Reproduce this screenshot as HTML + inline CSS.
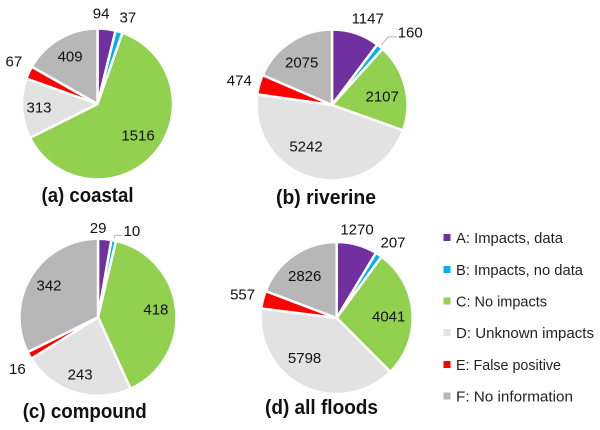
<!DOCTYPE html>
<html lang="en">
<head>
<meta charset="utf-8">
<title>Flood impact pie charts</title>
<style>
html,body{margin:0;padding:0;background:#fff;}
svg{display:block;font-family:"Liberation Sans",sans-serif;}
</style>
</head>
<body>
<svg id="chart" xmlns="http://www.w3.org/2000/svg" width="600" height="430" viewBox="0 0 600 430">
  <rect width="600" height="430" fill="#ffffff"/>
  <g id="pies"></g>
  <text x="41.5" y="202" font-size="20" font-weight="bold" fill="#111" textLength="92" lengthAdjust="spacingAndGlyphs">(a) coastal</text>
  <text x="276" y="204" font-size="20" font-weight="bold" fill="#111" textLength="100" lengthAdjust="spacingAndGlyphs">(b) riverine</text>
  <text x="22.7" y="418" font-size="20" font-weight="bold" fill="#111" textLength="124" lengthAdjust="spacingAndGlyphs">(c) compound</text>
  <text x="265" y="414" font-size="20" font-weight="bold" fill="#111" textLength="113" lengthAdjust="spacingAndGlyphs">(d) all floods</text>
  <g font-size="15" fill="#222">
    <g><rect x="443.5" y="234" width="7" height="7" fill="#7030a0"/><text x="456" y="243" textLength="107" lengthAdjust="spacingAndGlyphs">A: Impacts, data</text></g>
    <g><rect x="443.5" y="266" width="7" height="7" fill="#00b0f0"/><text x="456" y="275" textLength="127" lengthAdjust="spacingAndGlyphs">B: Impacts, no data</text></g>
    <g><rect x="443.5" y="297.5" width="7" height="7" fill="#92d050"/><text x="456" y="306.5" textLength="91" lengthAdjust="spacingAndGlyphs">C: No impacts</text></g>
    <g><rect x="443.5" y="329" width="7" height="7" fill="#e2e2e2"/><text x="456" y="338" textLength="138" lengthAdjust="spacingAndGlyphs">D: Unknown impacts</text></g>
    <g><rect x="443.5" y="361" width="7" height="7" fill="#ff0000"/><text x="456" y="370" textLength="105" lengthAdjust="spacingAndGlyphs">E: False positive</text></g>
    <g><rect x="443.5" y="392.5" width="7" height="7" fill="#b7b7b7"/><text x="456" y="401.5" textLength="117" lengthAdjust="spacingAndGlyphs">F: No information</text></g>
  </g>
</svg>
<script>
var categories = ["a", "b", "c", "d", "e", "f"];
var coastalValues = [94, 37, 1516, 313, 67, 409];
var riverineValues = [1147, 160, 2107, 5242, 474, 2075];
var compoundValues = [29, 10, 418, 243, 16, 342];
var allFloodsValues = [1270, 207, 4041, 5798, 557, 2826];

var sliceColors = ["#7030a0", "#00b0f0", "#92d050", "#e2e2e2", "#ff0000", "#b7b7b7"];
var svgNS = "http://www.w3.org/2000/svg";
var pieGroup = document.getElementById("pies");

function polar(cx, cy, r, deg) {
  var t = deg * Math.PI / 180;
  return [cx + r * Math.sin(t), cy - r * Math.cos(t)];
}

function drawPie(name, values, cx, cy, r, labelRadius, labelTurn, leader) {
  var g = document.createElementNS(svgNS, "g");
  
  
  pieGroup.appendChild(g);
  var total = values.reduce(function (s, v) { return s + v; }, 0);
  var start = 0;
  var labels = [];
  values.forEach(function (v, i) {
    var sweep = v / total * 360;
    var end = start + sweep;
    var p0 = polar(cx, cy, r, start);
    var p1 = polar(cx, cy, r, end);
    var path = document.createElementNS(svgNS, "path");
    path.setAttribute("d", "M" + cx + " " + cy + "L" + p0[0].toFixed(2) + " " + p0[1].toFixed(2) +
      "A" + r + " " + r + " 0 " + (sweep > 180 ? 1 : 0) + " 1 " + p1[0].toFixed(2) + " " + p1[1].toFixed(2) + "Z");
    path.setAttribute("fill", sliceColors[i]);
    path.setAttribute("stroke", "#ffffff");
    path.setAttribute("stroke-width", "2.5");
    path.setAttribute("stroke-linejoin", "round");
    
    
    g.appendChild(path);

    var mid = start + sweep / 2;
    var pos = polar(cx, cy, labelRadius[i], mid + labelTurn[i]);
    if (leader && leader.index === i) {
      var a = polar(cx, cy, r + 2, mid);
      var line = document.createElementNS(svgNS, "polyline");
      line.setAttribute("points", a[0].toFixed(1) + "," + a[1].toFixed(1) + " " +
        (pos[0] - leader.back).toFixed(1) + "," + (pos[1] + leader.drop).toFixed(1) + " " +
        (pos[0] - leader.front).toFixed(1) + "," + (pos[1] + leader.drop).toFixed(1));
      line.setAttribute("fill", "none");
      line.setAttribute("stroke", "#b5b5b5");
      line.setAttribute("stroke-width", "1");
      
      
      g.appendChild(line);
    }
    labels.push({ x: pos[0], y: pos[1], v: v, c: categories[i] });
    start = end;
  });
  labels.forEach(function (l) {
    var t = document.createElementNS(svgNS, "text");
    t.setAttribute("x", l.x.toFixed(1));
    t.setAttribute("y", (l.y + 5.4).toFixed(1));
    t.setAttribute("text-anchor", "middle");
    t.setAttribute("font-size", "15");
    t.setAttribute("fill", "#111");
    
    
    t.textContent = l.v;
    g.appendChild(t);
  });
}

drawPie("coastal", coastalValues, 97.5, 104, 75.5,
  [91, 92, 51, 58.6, 94, 55], [-4.7, 2.7, -4, 0.6, 2.6, 0.4], null);
drawPie("riverine", riverineValues, 332, 105, 75.5,
  [94, 107, 51, 48.5, 96, 52.6], [3.9, 7.5, 4, 18.5, -0.6, -1.9],
  { index: 1, back: 22, front: 13, drop: 5 });
drawPie("compound", compoundValues, 98, 317.3, 78.5,
  [89.6, 93, 58.5, 59.5, 95.5, 58.7], [-4.9, 9.8, -2.3, 0.7, -3.3, 1.6],
  { index: 1, back: 17, front: 9, drop: 4.5 });
drawPie("all-floods", allFloodsValues, 336.7, 318, 76,
  [91, 94.3, 52, 51, 97, 53], [-2.65, 3, 2.1, 12.8, 0.2, -2.5], null);
</script>
</body>
</html>
